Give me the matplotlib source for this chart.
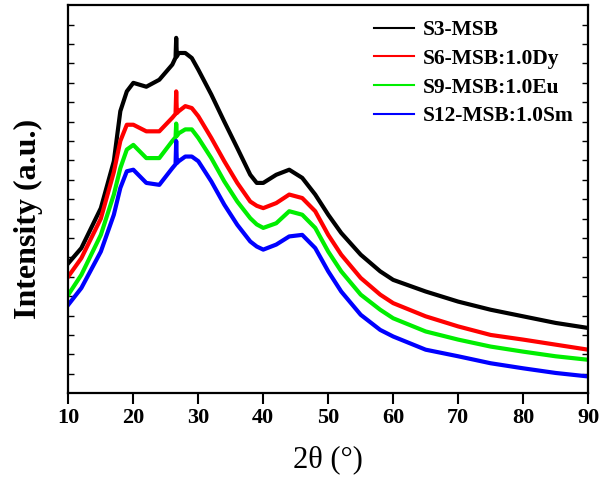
import numpy as np
import matplotlib.pyplot as plt

# 2theta positions (degrees)
two_theta = [10, 12, 15, 17, 18, 19, 20, 22, 24, 26, 26.5, 26.6, 26.7, 27, 28, 29, 30,
             32, 34, 36, 38, 39, 40, 42, 44, 46, 48, 50, 52, 55, 58, 60, 65, 70, 75,
             80, 85, 90]

# intensities (arbitrary units, 0 = bottom of frame, 100 = top)
s3_msb = [33.5, 37.4, 47.7, 59.8, 72.7, 77.8, 80.0, 79.0, 80.8, 84.7, 86.5, 91.6, 86.8,
          87.7, 87.7, 86.4, 83.4, 77.0, 70.0, 63.2, 56.3, 54.2, 54.2, 56.3, 57.6, 55.5,
          51.2, 46.0, 41.3, 35.7, 31.4, 29.2, 26.2, 23.6, 21.5, 19.8, 18.1, 16.8]
s6_dy = [30.1, 34.8, 45.0, 57.0, 65.0, 69.2, 69.2, 67.5, 67.5, 71.0, 72.0, 77.8, 72.2,
         72.7, 74.0, 73.5, 71.4, 65.8, 59.8, 54.2, 49.4, 48.3, 47.7, 49.0, 51.2, 50.3,
         46.9, 40.8, 35.7, 29.7, 25.4, 23.2, 19.8, 17.2, 15.0, 13.8, 12.5, 11.2]
s9_eu = [25.4, 30.5, 40.8, 51.2, 58.0, 62.8, 64.0, 60.6, 60.6, 65.0, 66.0, 69.5, 66.3,
         67.0, 68.0, 68.0, 65.8, 60.6, 54.6, 49.4, 45.1, 43.5, 42.6, 43.8, 46.9, 46.0,
         42.6, 36.5, 31.4, 25.4, 21.5, 19.3, 15.9, 13.8, 12.0, 10.7, 9.5, 8.6]
s12_sm = [22.8, 27.1, 36.5, 46.0, 52.9, 57.2, 57.6, 54.2, 53.7, 58.0, 59.0, 65.0, 59.3,
          59.8, 61.0, 61.0, 59.8, 54.6, 48.6, 43.4, 39.1, 37.8, 37.0, 38.3, 40.4, 40.8,
          37.4, 31.4, 26.2, 20.2, 16.3, 14.6, 11.2, 9.5, 7.7, 6.4, 5.2, 4.3]

labels = ['S3-MSB', 'S6-MSB:1.0Dy', 'S9-MSB:1.0Eu', 'S12-MSB:1.0Sm']
colors = ['black', 'red', '#00ee00', 'blue']

plt.rcParams['font.family'] = ['Liberation Serif', 'DejaVu Serif']

fig = plt.figure(figsize=(6.05, 4.8), dpi=100)
ax = fig.add_axes([0.113, 0.181, 0.859, 0.808])

for ys, lab, c in zip([s3_msb, s6_dy, s9_eu, s12_sm], labels, colors):
    ax.plot(two_theta, ys, color=c, lw=3, label=lab)

ax.set_xlim(10, 90)
ax.set_ylim(0, 100)
ax.set_xticks(np.arange(10, 91, 10))
ax.set_yticks(np.arange(5, 100, 5))
ax.set_yticklabels([])
ax.tick_params(axis='x', direction='out', length=8, width=1.5, labelsize=16, pad=3)
ax.tick_params(axis='y', direction='in', length=4, width=1, right=True)
for lbl in ax.get_xticklabels():
    lbl.set_fontweight('bold')
for sp in ax.spines.values():
    sp.set_linewidth(1.6)

ax.set_xlabel('2θ (°)', fontsize=22, labelpad=12)
ax.set_ylabel('Intensity (a.u.)', fontsize=23, fontweight='bold')
ax.yaxis.set_label_coords(-0.048, 0.45)

leg = ax.legend(loc='upper right', frameon=False, handlelength=1.85, handletextpad=0.4,
                labelspacing=0.4, prop={'weight': 'bold', 'size': 15.5},
                bbox_to_anchor=(0.997, 0.995), borderaxespad=0.2)
for h in leg.get_lines():
    h.set_linewidth(1.5)

fig.savefig('out.png', dpi=100)
